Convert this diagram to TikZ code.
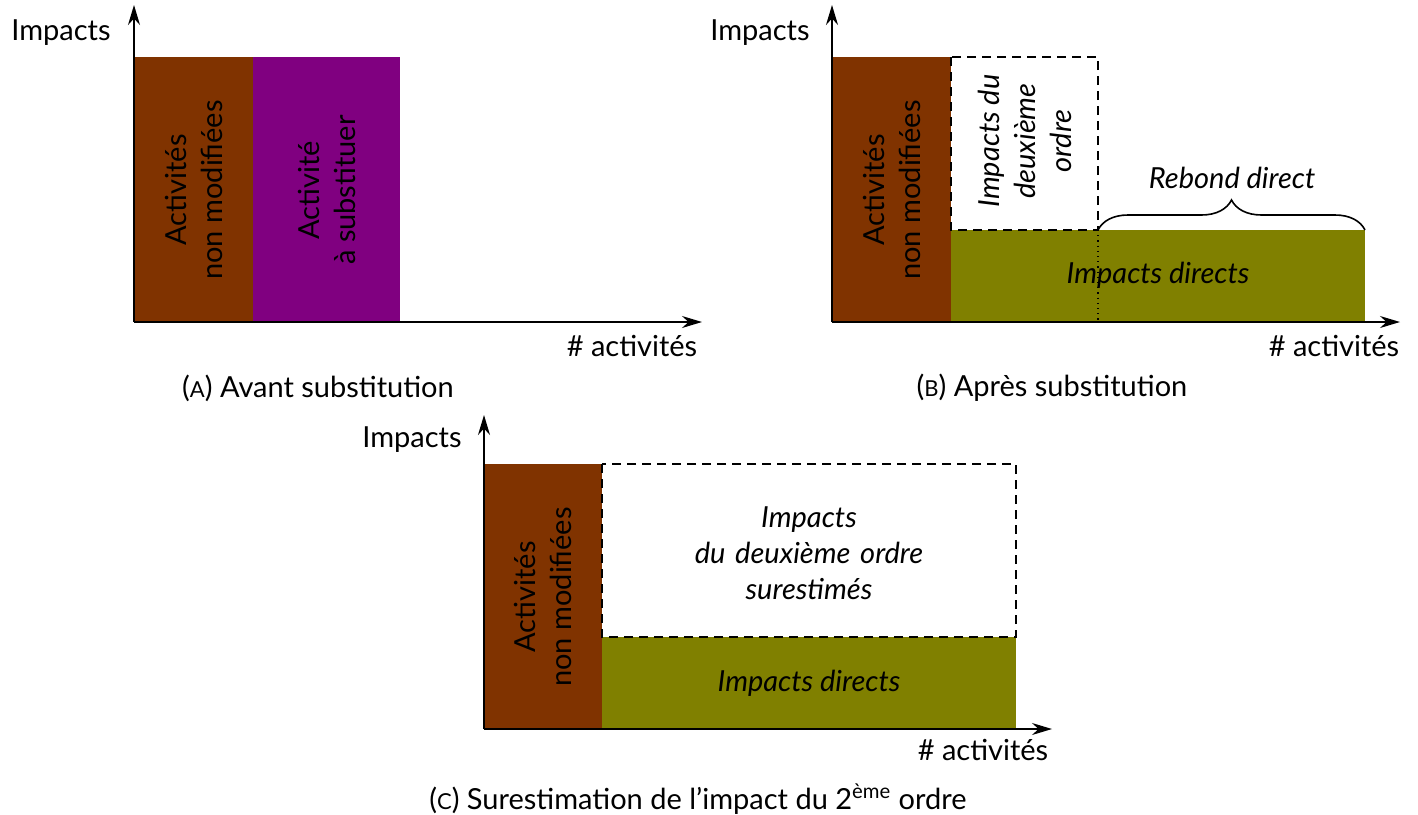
\documentclass[tikz,border=0pt]{standalone}
\usepackage{fontspec}
\setmainfont{Lato}
\usetikzlibrary{arrows.meta, decorations.pathreplacing}
\definecolor{brun}{RGB}{128,51,0}
\definecolor{pourpre}{RGB}{128,0,128}
\definecolor{olive}{RGB}{128,128,0}
\newcommand{\petitcap}[1]{{\fontsize{11}{13}\selectfont #1}}

\begin{document}
\begin{tikzpicture}[x=0.5pt, y=-0.5pt, font=\fontsize{14.5}{18}\selectfont,
    axe/.style={-{Stealth[length=10pt, width=6pt]}, line width=0.75pt},
    tirets/.style={dash pattern=on 4.5pt off 3pt, line width=1.2pt},
    vertical/.style={align=center, rotate=90},
    legende/.style={align=center, font=\fontsize{14.5}{18}\selectfont\itshape}]
  \useasboundingbox (0,0) rectangle (1418,814);

  % (a) avant substitution
  \coordinate (oA) at (134,322);
  \coordinate (yA) at (134,5);
  \coordinate (xA) at (702,322);
  \fill[brun] (134,57) rectangle (253,322);
  \fill[pourpre] (253,57) rectangle (400,322);
  \node[vertical] (nonmodA) at (194,190) {Activités\\non modifiées};
  \node[vertical] (substA) at (327,190) {Activité\\à substituer};
  \draw[axe] (oA) -- (yA);
  \draw[axe] (oA) -- (xA);
  \node (impA) at (61,33) {Impacts};
  \node (actA) at (632,346) {\# activités};
  \node (capA) at (318,388) {(\petitcap{A}) Avant substitution};

  % (b) apres substitution
  \coordinate (oB) at (832,322);
  \coordinate (yB) at (832,5);
  \coordinate (xB) at (1400,322);
  \coordinate (coinB) at (1098,230);
  \fill[brun] (832,57) rectangle (951,322);
  \fill[olive] (951,230) rectangle (1365,322);
  \draw[tirets] (951,57) rectangle (coinB);
  \draw[dotted, line width=0.6pt] (coinB) -- (1098,322);
  \draw[decorate, decoration={brace, amplitude=15pt}, line width=0.8pt]
    (coinB) -- (1365,230);
  \node[vertical] (nonmodB) at (892,190) {Activités\\non modifiées};
  \node[vertical, legende] (secondB) at (1025,141) {Impacts du\\deuxième\\ordre};
  \node[legende] (directB) at (1158,275) {Impacts directs};
  \node[legende] (rebondB) at (1232,178) {Rebond direct};
  \draw[axe] (oB) -- (yB);
  \draw[axe] (oB) -- (xB);
  \node (impB) at (760,33) {Impacts};
  \node (actB) at (1334,346) {\# activités};
  \node (capB) at (1052,388) {(\petitcap{B}) Après substitution};

  % (c) surestimation
  \coordinate (oC) at (484,729);
  \coordinate (yC) at (484,415);
  \coordinate (xC) at (1052,729);
  \fill[brun] (484,464) rectangle (602,729);
  \fill[olive] (602,637) rectangle (1016,729);
  \draw[tirets] (602,464) rectangle (1016,637);
  \node[vertical] (nonmodC) at (543,597) {Activités\\non modifiées};
  \node[legende, text width=300pt] (secondC) at (809,553)
    {Impacts\\du deuxième ordre\\surestimés};
  \node[legende] (directC) at (809,683) {Impacts directs};
  \draw[axe] (oC) -- (yC);
  \draw[axe] (oC) -- (xC);
  \node (impC) at (412,440) {Impacts};
  \node (actC) at (983,750) {\# activités};
  \node (capC) at (698,799) {(\petitcap{C}) Surestimation de l’impact du 2\textsuperscript{ème} ordre};
\end{tikzpicture}
\end{document}
